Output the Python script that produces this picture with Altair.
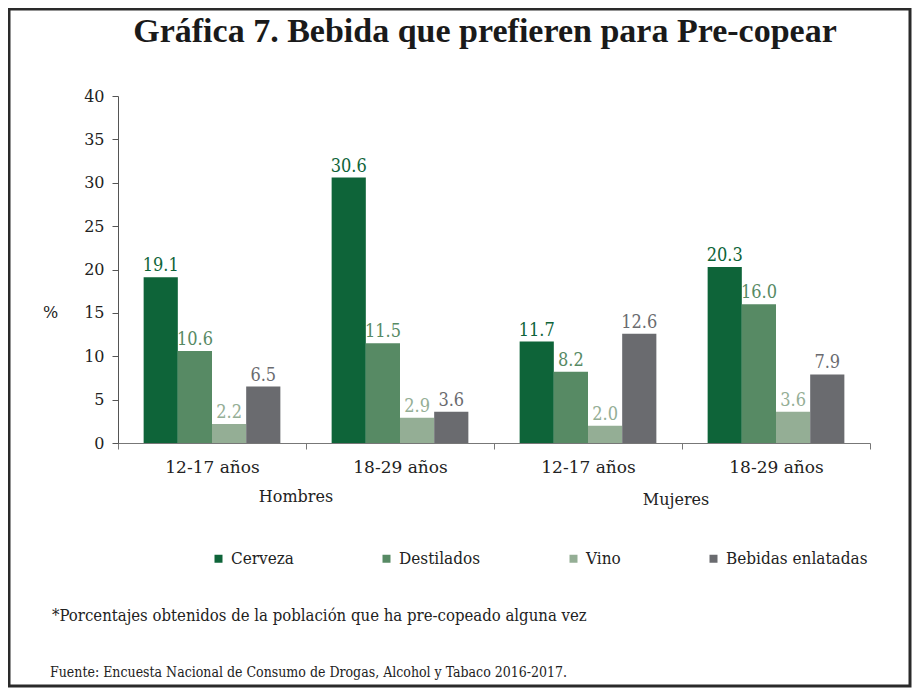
import altair as alt
import pandas as pd

# ---- data ----
groups = ["Hombres", "Hombres", "Mujeres", "Mujeres"]
ages = ["12-17 años", "18-29 años", "12-17 años", "18-29 años"]
series = ["Cerveza", "Destilados", "Vino", "Bebidas enlatadas"]
cerveza = [19.1, 30.6, 11.7, 20.3]
destilados = [10.6, 11.5, 8.2, 16.0]
vino = [2.2, 2.9, 2.0, 3.6]
enlatadas = [6.5, 3.6, 12.6, 7.9]
colors = ["#0e6439", "#578a64", "#94ae95", "#6a6b6f"]
title_text = "Gráfica 7. Bebida que prefieren para Pre-copear"
y_title = "%"
note_text = "*Porcentajes obtenidos de la población que ha pre-copeado alguna vez"
source_text = "Fuente: Encuesta Nacional de Consumo de Drogas, Alcohol y Tabaco 2016-2017."

values_by_series = [cerveza, destilados, vino, enlatadas]
keys = [g + "|" + a for g, a in zip(groups, ages)]
rows = []
for s, vals in zip(series, values_by_series):
    for k, v in zip(keys, vals):
        rows.append({"cat": k, "serie": s, "valor": v})
df = pd.DataFrame(rows)

TFONT = "Liberation Serif"
FONT = "DejaVu Serif"
CFONT = "DejaVu Serif Condensed, DejaVu Serif"

x_enc = alt.X(
    "cat:N",
    sort=keys,
    scale=alt.Scale(paddingInner=0, paddingOuter=0),
    axis=alt.Axis(
        title=None,
        labelAngle=0,
        labelExpr="split(datum.label, '|')[1]",
        tickBand="extent",
        tickSize=6,
        labelPadding=10,
        labelFont=FONT,
        labelFontSize=17,
        labelColor="#222222",
        domainColor="#777777",
        tickColor="#777777",
    ),
)
xoff = alt.XOffset(
    "serie:N", sort=series, scale=alt.Scale(paddingInner=0, paddingOuter=0.75)
)
color_scale = alt.Scale(domain=series, range=colors)

base = alt.Chart(df)
bars = base.mark_bar().encode(
    x=x_enc,
    xOffset=xoff,
    y=alt.Y(
        "valor:Q",
        scale=alt.Scale(domain=[0, 40]),
        axis=alt.Axis(
            values=list(range(0, 41, 5)),
            grid=False,
            title=y_title,
            titleAngle=0,
            titleX=-68,
            titleY=216,
            titleAlign="center",
            titleBaseline="middle",
            titleFont=FONT,
            titleFontSize=16,
            titleFontWeight="normal",
            titleColor="#222222",
            labelFont=FONT,
            labelFontSize=16,
            labelColor="#222222",
            tickSize=6,
            labelPadding=8,
            domainColor="#555555",
            tickColor="#555555",
        ),
    ),
    color=alt.Color(
        "serie:N",
        sort=series,
        scale=color_scale,
        legend=alt.Legend(
            title=None,
            orient="none",
            legendX=92,
            legendY=454,
            direction="horizontal",
            symbolType="square",
            symbolSize=64,
            symbolStrokeWidth=0,
            labelFont=CFONT,
            labelFontSize=17,
            labelColor="#222222",
            labelOffset=4,
            columnPadding=84,
            padding=0,
        ),
    ),
)

labels = base.mark_text(
    baseline="bottom", dy=-2, font=CFONT, fontSize=18
).encode(
    x=alt.X("cat:N", sort=keys),
    xOffset=alt.XOffset("serie:N", sort=series),
    y="valor:Q",
    text=alt.Text("valor:Q", format=".1f"),
    color=alt.Color("serie:N", sort=series, scale=color_scale, legend=None),
)

ann_df = pd.DataFrame({"t": [0]})
ann = alt.Chart(ann_df)

title = ann.mark_text(
    text=title_text, font=TFONT, fontSize=34, fontWeight="bold",
    align="center", baseline="alphabetic", color="#1a1a1a",
).encode(x=alt.value(367), y=alt.value(-54))

hombres = ann.mark_text(
    text=groups[0], font=FONT, fontSize=16, align="center",
    baseline="middle", color="#222222",
).encode(x=alt.value(178), y=alt.value(401))

mujeres = ann.mark_text(
    text=groups[2], font=FONT, fontSize=16, align="center",
    baseline="middle", color="#222222",
).encode(x=alt.value(558), y=alt.value(404))

note = ann.mark_text(
    text=note_text, font=CFONT, fontSize=16.6, align="left",
    baseline="alphabetic", color="#222222",
).encode(x=alt.value(-66), y=alt.value(525))

source = ann.mark_text(
    text=source_text, font=CFONT, fontSize=14, align="left",
    baseline="alphabetic", color="#222222",
).encode(x=alt.value(-68), y=alt.value(581))

frame = ann.mark_rect(
    fill="white", fillOpacity=0, stroke="#2a2a2a", strokeWidth=3
).encode(
    x=alt.value(-109), x2=alt.value(792), y=alt.value(-87), y2=alt.value(590)
)

chart = (
    alt.layer(frame, bars, labels, title, hombres, mujeres, note, source)
    .properties(
        width=752,
        height=347,
        autosize=alt.AutoSizeParams(type="none"),
        padding={"left": 110, "top": 88, "right": 42, "bottom": 245},
        background="white",
    )
    .configure_view(stroke=None)
)

chart.save("out.html", embed_options={"renderer": "svg", "actions": False})
